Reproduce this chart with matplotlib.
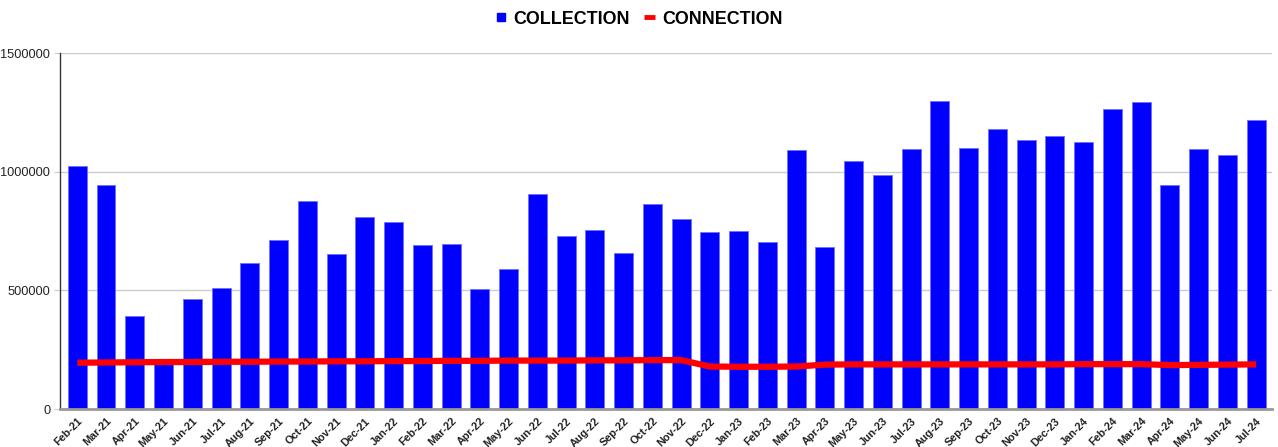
import matplotlib
matplotlib.use("Agg")
import matplotlib.pyplot as plt
from matplotlib.lines import Line2D

plt.rcParams['font.family'] = ['Liberation Sans', 'DejaVu Sans']

months = ['Feb-21', 'Mar-21', 'Apr-21', 'May-21', 'Jun-21', 'Jul-21', 'Aug-21', 'Sep-21',
          'Oct-21', 'Nov-21', 'Dec-21', 'Jan-22', 'Feb-22', 'Mar-22', 'Apr-22', 'May-22',
          'Jun-22', 'Jul-22', 'Aug-22', 'Sep-22', 'Oct-22', 'Nov-22', 'Dec-22', 'Jan-23',
          'Feb-23', 'Mar-23', 'Apr-23', 'May-23', 'Jun-23', 'Jul-23', 'Aug-23', 'Sep-23',
          'Oct-23', 'Nov-23', 'Dec-23', 'Jan-24', 'Feb-24', 'Mar-24', 'Apr-24', 'May-24',
          'Jun-24', 'Jul-24']

collection = [1024000, 945000, 390000, 208000, 463000, 510000, 617000, 712000,
              876000, 653000, 808000, 788000, 690000, 695000, 505000, 590000,
              907000, 729000, 754000, 657000, 865000, 800000, 745000, 750000,
              703000, 1092000, 683000, 1043000, 988000, 1096000, 1297000, 1099000,
              1181000, 1132000, 1150000, 1127000, 1263000, 1293000, 944000, 1096000,
              1069000, 1218000]

connection = [195000, 196000, 197000, 198000, 198000, 199000, 199000, 200000,
              200000, 201000, 201000, 202000, 202000, 203000, 203000, 204000,
              204000, 204000, 205000, 205000, 206000, 206000, 179000, 178000,
              178000, 179000, 187000, 188000, 188000, 188000, 188000, 188000,
              188000, 188000, 188000, 189000, 189000, 189000, 185000, 186000,
              187000, 188000]

yticks = [0, 500000, 1000000, 1500000]

x = list(range(len(months)))

fig = plt.figure(figsize=(12.78, 4.47), dpi=100)
ax = fig.add_axes([60 / 1278, 1 - 409 / 447, 1212 / 1278, 356 / 447])

ax.bar(x, collection, width=0.66, color='#0000ff', edgecolor='#7070ff', linewidth=0.6, zorder=2)
ax.plot(x, connection, color='#ff0000', linewidth=4.5, solid_capstyle='butt', zorder=3)

ax.set_xlim(-0.6, 41.55)
ax.set_ylim(0, 1500000)
ax.set_yticks(yticks)
ax.set_yticklabels([str(v) for v in yticks], fontsize=9.2, color='#222222')
ax.set_xticks(x)
ax.set_xticklabels(months, rotation=45, ha='right', rotation_mode='anchor',
                   fontsize=7.8, fontweight='bold', color='#222222')
ax.tick_params(axis='x', length=0, pad=5)
ax.tick_params(axis='y', length=4, color='#cccccc', pad=3)

ax.grid(axis='y', color='#cccccc', linewidth=1, zorder=0)
ax.set_axisbelow(True)
for s in ['top', 'right']:
    ax.spines[s].set_visible(False)
ax.spines['left'].set_color('#333333')
ax.spines['left'].set_linewidth(1)
ax.spines['bottom'].set_color('#999999')
ax.spines['bottom'].set_linewidth(2)

handles = [Line2D([], [], marker='s', color='#0000ff', linestyle='none', markersize=6),
           Line2D([], [], color='#ff0000', linewidth=3.5, solid_capstyle='butt')]
fig.legend(handles, ['COLLECTION', 'CONNECTION'], loc='center', bbox_to_anchor=(0.5, 1 - 19 / 447),
           ncol=2, frameon=False, handlelength=0.6, handletextpad=0.4, columnspacing=0.8,
           prop={'size': 12.9, 'weight': 'bold'})

fig.savefig('out.png', dpi=100)
